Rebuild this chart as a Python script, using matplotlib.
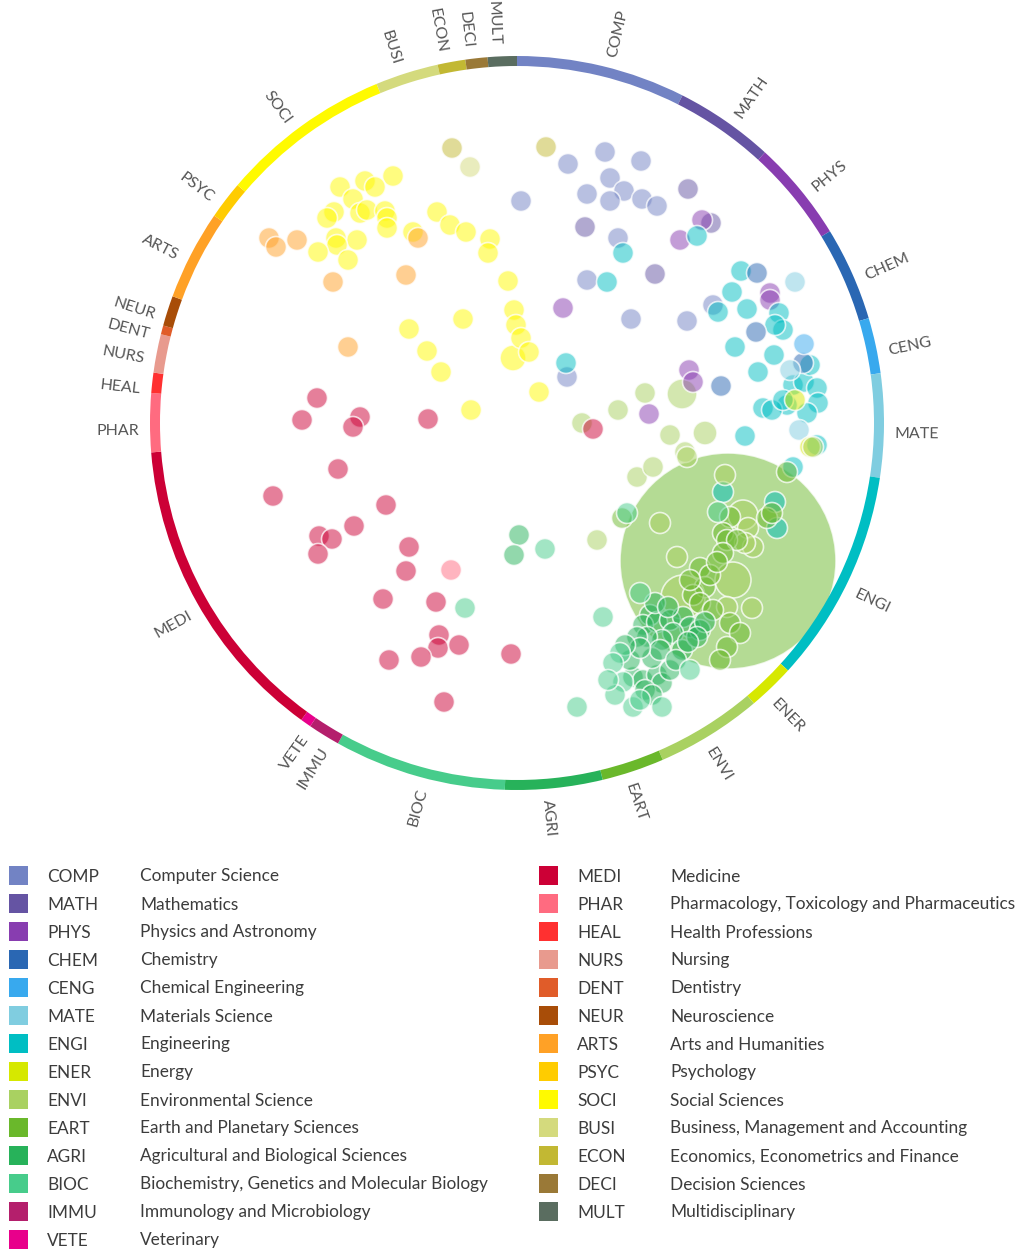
import matplotlib
matplotlib.use('Agg')
import matplotlib.pyplot as plt
from matplotlib.patches import Wedge, Circle, Rectangle
from matplotlib.colors import to_rgba
import numpy as np

# ---------------- data ----------------
codes = ["COMP", "MATH", "PHYS", "CHEM", "CENG", "MATE", "ENGI", "ENER", "ENVI",
         "EART", "AGRI", "BIOC", "IMMU", "VETE", "MEDI", "PHAR", "HEAL", "NURS",
         "DENT", "NEUR", "ARTS", "PSYC", "SOCI", "BUSI", "ECON", "DECI", "MULT"]
names = ["Computer Science", "Mathematics", "Physics and Astronomy", "Chemistry",
         "Chemical Engineering", "Materials Science", "Engineering", "Energy",
         "Environmental Science", "Earth and Planetary Sciences",
         "Agricultural and Biological Sciences",
         "Biochemistry, Genetics and Molecular Biology",
         "Immunology and Microbiology", "Veterinary", "Medicine",
         "Pharmacology, Toxicology and Pharmaceutics", "Health Professions",
         "Nursing", "Dentistry", "Neuroscience", "Arts and Humanities",
         "Psychology", "Social Sciences", "Business, Management and Accounting",
         "Economics, Econometrics and Finance", "Decision Sciences",
         "Multidisciplinary"]
colors = ["#7283c4", "#6554a3", "#883db0", "#2a67b3", "#38a9ee", "#80cde0",
          "#00bec3", "#d6e800", "#a9d161", "#6ab82b", "#27b25a", "#47cc8b",
          "#b41f6c", "#e8008b", "#cc0036", "#ff6b80", "#ff3030", "#e89a8e",
          "#e05c29", "#a84d08", "#ffa126", "#ffcc00", "#fffa00", "#d4da7d",
          "#c2b833", "#9a7937", "#5a6d60"]
# share of the ring (degrees of arc) per subject area
arc_deg = [26.8, 15.7, 16.0, 14.9, 8.8, 16.4, 33.8, 7.4, 16.8, 9.9, 15.4, 27.3,
           5.1, 1.7, 49.4, 9.3, 3.2, 6.1, 1.4, 4.8, 14.2, 6.0, 27.1, 10.0, 4.4,
           3.5, 4.6]

# bubble map positions (embedding coordinates) and radii
bub_SOCI = [(393, 176), (365, 181), (375, 187), (340, 187), (353, 199), (334, 212),
            (327, 218), (360, 213), (367, 210), (385, 211), (387, 218), (387, 228),
            (357, 240), (336, 238), (337, 245), (318, 252), (348, 260), (413, 232),
            (437, 212), (450, 225), (466, 232), (490, 239), (488, 253), (508, 281),
            (514, 310), (516, 325), (521, 338), (513, 358, 13), (529, 352),
            (463, 319), (409, 329), (427, 351), (441, 372), (539, 392), (471, 410)]
bub_ARTS = [(269, 238), (276, 247), (297, 240), (333, 282), (406, 275), (348, 347),
            (418, 238)]
bub_ECON = [(452, 148), (546, 147)]
bub_BUSI = [(470, 167)]
bub_COMP = [(568, 164), (605, 152), (641, 161), (610, 178), (624, 191), (587, 194),
            (610, 201), (642, 199), (657, 206), (521, 201), (618, 238), (587, 280),
            (631, 319), (687, 321), (567, 377), (713, 305)]
bub_MATH = [(688, 189), (585, 227), (655, 274), (711, 223)]
bub_PHYS = [(702, 220), (680, 240), (563, 308), (689, 370), (693, 382), (649, 414),
            (770, 293), (770, 300)]
bub_ENGI = [(697, 236), (623, 253), (607, 282), (566, 363), (741, 271), (732, 292),
            (718, 312), (747, 309), (779, 313), (783, 330), (775, 325), (735, 347),
            (774, 355), (758, 372), (793, 385), (804, 382), (817, 388), (818, 403),
            (807, 413), (787, 405), (763, 408), (772, 410), (783, 400), (745, 436),
            (810, 365), (817, 445), (793, 467), (723, 492), (775, 502), (777, 528)]
bub_CHEM = [(757, 273), (756, 332), (721, 386), (803, 363)]
bub_CENG = [(804, 344)]
bub_MATE = [(795, 282), (790, 370), (799, 430)]
bub_ENER = [(795, 400), (810, 447)]
bub_ENVI = [(682, 394, 15), (645, 393), (618, 410), (582, 423),
            (670, 435), (705, 433, 12), (685, 452), (813, 447), (637, 477),
            (653, 467), (687, 457), (597, 540), (725, 475), (660, 523),
            (743, 515, 15), (748, 528), (753, 547), (745, 543), (677, 557),
            (733, 580, 18), (683, 597, 22), (727, 607), (752, 608)]
bub_EART = [(728, 561, 108), (622, 518), (787, 472), (730, 517), (767, 518),
            (772, 513), (723, 533), (727, 540), (737, 540), (700, 568), (723, 553),
            (705, 587), (693, 595), (700, 603), (713, 610), (730, 623), (740, 633),
            (727, 647), (720, 660), (710, 575), (717, 562), (690, 580)]
bub_AGRI = [(519, 535), (514, 555), (650, 615), (643, 625), (657, 622), (670, 620),
            (683, 617), (690, 627), (700, 630), (705, 622), (673, 633), (662, 640),
            (647, 637), (637, 637), (682, 650), (697, 637), (633, 677), (643, 680),
            (657, 675), (662, 683), (670, 670), (652, 658), (630, 660), (655, 603),
            (668, 607), (688, 642), (660, 650), (640, 648), (625, 645), (676, 660),
            (645, 690), (652, 695)]
bub_BIOC = [(545, 549), (465, 608), (603, 617), (640, 593), (627, 513), (718, 512),
            (620, 653), (613, 663), (623, 682), (615, 695), (633, 707), (662, 707),
            (577, 707), (690, 670), (608, 680), (640, 700)]
bub_MEDI = [(317, 398), (302, 420), (360, 417), (353, 427), (428, 419), (338, 469),
            (273, 496), (386, 505), (354, 526), (319, 536), (332, 539), (318, 554),
            (409, 547), (406, 571), (383, 599), (436, 602), (439, 635), (438, 648),
            (459, 645), (421, 657), (389, 660), (511, 654), (444, 702), (593, 429)]
bub_PHAR = [(451, 570)]

bubble_sets = {"SOCI": bub_SOCI, "ARTS": bub_ARTS, "ECON": bub_ECON, "BUSI": bub_BUSI,
               "COMP": bub_COMP, "MATH": bub_MATH, "PHYS": bub_PHYS, "ENGI": bub_ENGI,
               "CHEM": bub_CHEM, "CENG": bub_CENG, "MATE": bub_MATE, "ENER": bub_ENER,
               "ENVI": bub_ENVI, "EART": bub_EART, "AGRI": bub_AGRI, "BIOC": bub_BIOC,
               "MEDI": bub_MEDI, "PHAR": bub_PHAR}

# ---------------- figure ----------------
plt.rcParams['font.family'] = ['Lato', 'DejaVu Sans']
fig = plt.figure(figsize=(10.24, 12.55), dpi=100)
ax = fig.add_axes([0, 0, 1, 1])
ax.set_xlim(0, 1024)
ax.set_ylim(1255, 0)
ax.axis('off')

cx, cy, R, W = 517, 423, 362, 10
DEFAULT_R = 10.5
cmap = dict(zip(codes, colors))

# bubbles, largest first
allb = []
for code, pts in bubble_sets.items():
    for p in pts:
        r = p[2] if len(p) > 2 else DEFAULT_R
        allb.append((r, p[0], p[1], cmap[code]))
allb.sort(key=lambda t: -t[0])
for r, x, y, c in allb:
    ax.add_patch(Circle((x, y), r, facecolor=to_rgba(c, 0.5),
                        edgecolor=(1, 1, 1, 0.75), lw=1.2, zorder=2))

# ring
start = 0.0
label_color = "#555555"
for code, c, d in zip(codes, colors, arc_deg):
    a1, a2 = start, start + d
    ax.add_patch(Wedge((cx, cy), R + W / 2, a1 - 90, a2 - 90, width=W,
                       facecolor=c, edgecolor='none', zorder=3))
    am = (a1 + a2) / 2
    rl = R + 16
    rad = np.radians(am)
    tx, ty = cx + rl * np.sin(rad), cy - rl * np.cos(rad)
    if am < 180:
        rot, ha = 90 - am, 'left'
    else:
        rot, ha = 270 - am, 'right'
    # shift along the text's "down" direction (data y points down)
    off = 8
    tx += off * np.sin(np.radians(rot))
    ty += off * np.cos(np.radians(rot))
    ax.text(tx, ty, code, rotation=rot, rotation_mode='anchor', ha=ha, va='center',
            fontsize=11.5, color=label_color, zorder=4)
    start = a2

# legend
row_h = 28.0
for i, (code, name, c) in enumerate(zip(codes, names, colors)):
    if i < 14:
        x0, y = 9, 875 + i * row_h
    else:
        x0, y = 539, 875 + (i - 14) * row_h
    ax.add_patch(Rectangle((x0, y - 9.5), 19, 19, facecolor=c, edgecolor='none'))
    ax.text(x0 + 38, y + 1.5, code, ha='left', va='center', fontsize=12.4, color="#3c3c3c")
    ax.text(x0 + 131, y + 1.5, name, ha='left', va='center', fontsize=12.4, color="#3c3c3c")

fig.savefig("out.png", dpi=100, facecolor='white')
